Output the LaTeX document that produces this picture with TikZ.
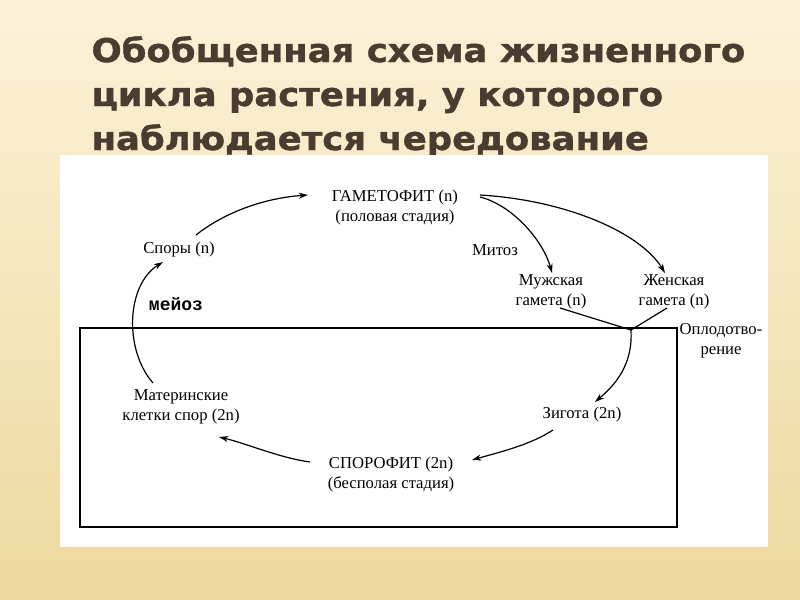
\documentclass[tikz,border=0pt]{standalone}
\usepackage{fontspec}
\setmainfont{Liberation Serif}
\setmonofont{Liberation Mono}
\newfontfamily\titlefont[FakeStretch=1.085, FakeBold=1.2]{DejaVu Sans}
\usetikzlibrary{arrows.meta,calc}
\definecolor{slidetop}{HTML}{FCF2D8}
\definecolor{slidebot}{HTML}{EDD89E}
\definecolor{titlebrown}{HTML}{4A3C30}

\begin{document}
\begin{tikzpicture}[x=0.75pt, y=-0.75pt, every node/.style={inner sep=1pt, align=center, font=\fontsize{12.5}{15}\selectfont}]
	\tikzset{arr/.style={line width=0.9pt, -{Stealth[length=7pt,width=4.5pt]}}}
	\tikzset{titleline/.style={anchor=base west, text=titlebrown, font=\titlefont\bfseries\fontsize{24.5}{33}\selectfont}}
	\useasboundingbox[top color=slidetop, bottom color=slidebot] (0,0) rectangle (800,600);
	\foreach \i/\y/\txt in {1/62/{Обобщенная схема жизненного},
		2/106/{цикла растения, у которого},
		3/150/{наблюдается чередование}}
	\node[titleline] (title\i) at (90,\y) {\txt};
	\fill[white] (60,155) rectangle (768,547);
	\draw[line width=1.1pt] (80,328) rectangle (677,527);
	\node (gam)   at (395,207) {ГАМЕТОФИТ (n)\\(половая стадия)};
	\node (spory) at (179,249) {Споры (n)};
	\node (meioz) at (176,304) {\ttfamily\bfseries\fontsize{13.5}{15}\selectfont мейоз};
	\node (mitoz) at (495,250) {Митоз};
	\node (muzh)  at (551,292) {Мужская\\гамета (n)};
	\node (zhen)  at (674,292) {Женская\\гамета (n)};
	\node (opl)   at (721,341) {Оплодотво-\\рение};
	\node (zig)   at (582,414) {Зигота (2n)};
	\node (spor)  at (391,474) {СПОРОФИТ (2n)\\(бесполая стадия)};
	\node (mat)   at (181,407) {Материнские\\клетки спор (2n)};
	\coordinate (fert) at (631,330);
	\draw[arr] ($(spory)+(17,-14)$) .. controls +(29,-23) and +(-43,3) .. ($(gam)+(-87,-12)$);
	\draw[arr] ($(mat)+(-28,-24)$) .. controls +(-29,-33) and +(-37,23) .. ($(spory)+(-16,13)$);
	\draw[arr] ($(gam)+(85,-10)$) .. controls +(32,8) and +(-9,-33) .. ($(muzh)+(1,-19)$);
	\draw[arr] ($(gam)+(85,-12)$) .. controls +(85,5) and +(-25,-41) .. ($(zhen)+(-9,-19)$);
	\foreach \from/\dx in {muzh/9, zhen/-7}
	\draw[line width=0.9pt] ($(\from)+(\dx,16)$) -- (fert);
	\draw[arr] (fert) .. controls +(2,35) and +(20,-17) .. ($(zig)+(13,-12)$);
	\draw[arr] ($(zig)+(-29,16)$) .. controls +(-23,15) and +(28,-8) .. ($(spor)+(81,-14)$);
	\draw[arr] ($(spor)+(-81,-12)$) .. controls +(-30,-4) and +(26,6) .. ($(mat)+(38,30)$);
\end{tikzpicture}
\end{document}
